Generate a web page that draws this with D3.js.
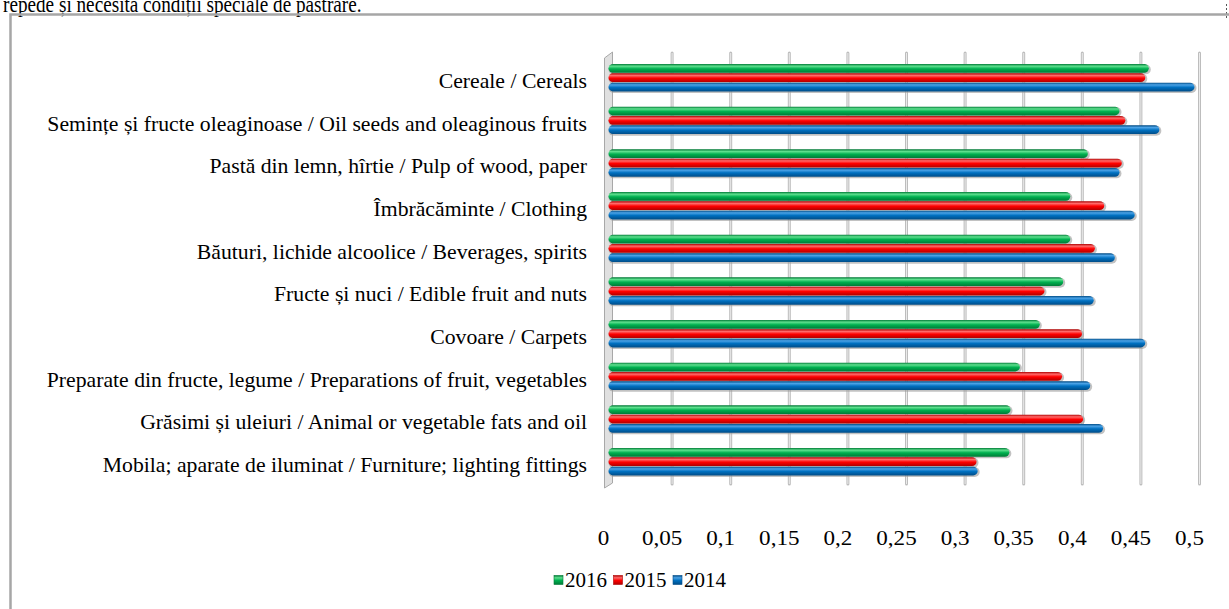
<!DOCTYPE html>
<html>
<head>
<meta charset="utf-8">
<script src="https://cdn.jsdelivr.net/npm/d3@7"></script>
<style>
  body { margin: 0; background: #fff; }
  svg { display: block; }
  text { font-family: "Liberation Serif", "Times New Roman", serif; fill: #000; }
</style>
</head>
<body>
<svg id="chart" width="1229" height="609"></svg>
<script>
var categories = [
  "Cereale / Cereals",
  "Semințe și fructe oleaginoase / Oil seeds and oleaginous fruits",
  "Pastă din lemn, hîrtie / Pulp of wood, paper",
  "Îmbrăcăminte / Clothing",
  "Băuturi, lichide alcoolice / Beverages, spirits",
  "Fructe și nuci / Edible fruit and nuts",
  "Covoare / Carpets",
  "Preparate din fructe, legume / Preparations of fruit, vegetables",
  "Grăsimi și uleiuri / Animal or vegetable fats and oil",
  "Mobila; aparate de iluminat / Furniture; lighting fittings"
];
var years = ["2016", "2015", "2014"];
var values2016 = [0.461, 0.436, 0.409, 0.394, 0.394, 0.388, 0.368, 0.351, 0.343, 0.342];
var values2015 = [0.458, 0.441, 0.438, 0.423, 0.415, 0.372, 0.404, 0.387, 0.405, 0.314];
var values2014 = [0.500, 0.470, 0.436, 0.449, 0.432, 0.414, 0.458, 0.411, 0.422, 0.315];
var tickValues = [0, 0.05, 0.1, 0.15, 0.2, 0.25, 0.3, 0.35, 0.4, 0.45, 0.5];

var colors = {
  "2016": { base: "#00b050", light: "#5ee08e", dark: "#007a36" },
  "2015": { base: "#ff0000", light: "#ff6a6a", dark: "#b00000" },
  "2014": { base: "#0070c0", light: "#4aa2e6", dark: "#004c87" }
};

var series = years.map(function(y) {
  var vals = y == "2016" ? values2016 : (y == "2015" ? values2015 : values2014);
  return { year: y, values: vals };
});

var svg = d3.select("#chart");
var defs = svg.append("defs");

// cylinder-like shading for the bars
years.forEach(function(y) {
  var g = defs.append("linearGradient")
      .attr("id", "grad" + y)
      .attr("x1", 0).attr("y1", 0).attr("x2", 0).attr("y2", 1);
  g.append("stop").attr("offset", "0%").attr("stop-color", colors[y].dark);
  g.append("stop").attr("offset", "25%").attr("stop-color", colors[y].light);
  g.append("stop").attr("offset", "55%").attr("stop-color", colors[y].base);
  g.append("stop").attr("offset", "100%").attr("stop-color", colors[y].dark);
});

var x = d3.scaleLinear().domain([0, 0.5]).range([609.5, 1195.5]);
var y = d3.scaleBand().domain(categories).range([59.67, 486.33]);
var yInner = d3.scaleBand().domain(years).range([0, 28]);

// text cut off at the top (previous paragraph)
svg.append("text")
   .attr("transform", "translate(3,11.5) scale(0.8,1)")
   .style("font-size", "24px")
   .text("repede și necesită condiții speciale de păstrare.");
svg.append("line")
   .attr("x1", 1226.5).attr("x2", 1226.5)
   .attr("y1", 4).attr("y2", 18)
   .attr("stroke", "#555")
   .attr("stroke-dasharray", "2,2");

// chart frame
svg.append("path")
   .attr("d", "M10.5,609 V14.5 H1229")
   .attr("fill", "none")
   .attr("stroke", "#a6a6a6")
   .attr("stroke-width", 2.5);

// back wall gridlines
var grid = svg.append("g");
grid.selectAll("line.gridA")
    .data(tickValues.slice(1))
    .enter().append("line")
    .attr("x1", function(d) { return x(d) + 4; })
    .attr("x2", function(d) { return x(d) + 4; })
    .attr("y1", 53).attr("y2", 484)
    .attr("stroke", "#bdbdbd")
    .attr("stroke-width", 3)
    .attr("stroke-linecap", "round");
grid.selectAll("line.gridB")
    .data(tickValues.slice(1))
    .enter().append("line")
    .attr("x1", function(d) { return x(d) + 4; })
    .attr("x2", function(d) { return x(d) + 4; })
    .attr("y1", 53).attr("y2", 484)
    .attr("stroke", "#ebebeb")
    .attr("stroke-width", 1);

// left side wall
svg.append("path")
   .attr("d", "M604.5,58 L612.5,52 L612.5,483 L604.5,488 Z")
   .attr("fill", "#e0e0e0")
   .attr("stroke", "#a8a8a8")
   .attr("stroke-width", 1);

// bars
var groups = svg.append("g").selectAll("g")
    .data(series)
    .enter().append("g");

groups.selectAll("rect.shadow")
    .data(function(s) { return s.values.map(function(v, i) { return { year: s.year, value: v, cat: categories[i] }; }); })
    .enter().append("rect")
    .attr("class", "shadow")
    .attr("x", x(0) - 1)
    .attr("y", function(d) { return y(d.cat) + y.bandwidth() / 2 - 17 + yInner(d.year) + 0.5; })
    .attr("width", function(d) { return x(d.value) - x(0) + 2; })
    .attr("height", yInner.bandwidth() + 0.5)
    .attr("rx", 5).attr("ry", 5)
    .attr("fill", "#9a9a9a")
    .attr("opacity", 0.6);

groups.selectAll("rect.bar")
    .data(function(s) { return s.values.map(function(v, i) { return { year: s.year, value: v, cat: categories[i] }; }); })
    .enter().append("rect")
    .attr("class", "bar")
    .attr("x", x(0) - 1)
    .attr("y", function(d) { return y(d.cat) + y.bandwidth() / 2 - 17 + yInner(d.year); })
    .attr("width", function(d) { return x(d.value) - x(0); })
    .attr("height", yInner.bandwidth() - 0.6)
    .attr("rx", 4.5).attr("ry", 4.5)
    .attr("fill", function(d) { return "url(#grad" + d.year + ")"; });

// category labels
svg.append("g").selectAll("text")
   .data(categories)
   .enter().append("text")
   .attr("transform", function(d) { return "translate(587," + (y(d) + y.bandwidth() / 2) + ") scale(1.07,1)"; })
   .attr("dy", "0.35em")
   .attr("text-anchor", "end")
   .style("font-size", "20.3px")
   .text(function(d) { return d; });

// x tick labels
svg.append("g").selectAll("text")
   .data(tickValues)
   .enter().append("text")
   .attr("transform", function(d) { return "translate(" + (x(d) - 6) + ",538) scale(1.1,1)"; })
   .attr("dy", "0.35em")
   .attr("text-anchor", "middle")
   .style("font-size", "21px")
   .text(function(d) { return String(d).replace(".", ","); });

// legend
var legend = svg.append("g").selectAll("g")
    .data(years)
    .enter().append("g")
    .attr("transform", function(d, i) { return "translate(" + (554 + i * 59.5) + ",580)"; });
legend.append("rect")
      .attr("x", 0).attr("y", -4.5)
      .attr("width", 9).attr("height", 9)
      .attr("fill", function(d) { return "url(#grad" + d + ")"; })
      .attr("stroke", function(d) { return colors[d].dark; })
      .attr("stroke-width", 0.6);
legend.append("text")
      .attr("transform", "translate(11,0)")
      .attr("dy", "0.35em")
      .style("font-size", "21px")
      .text(function(d) { return d; });
</script>
</body>
</html>
